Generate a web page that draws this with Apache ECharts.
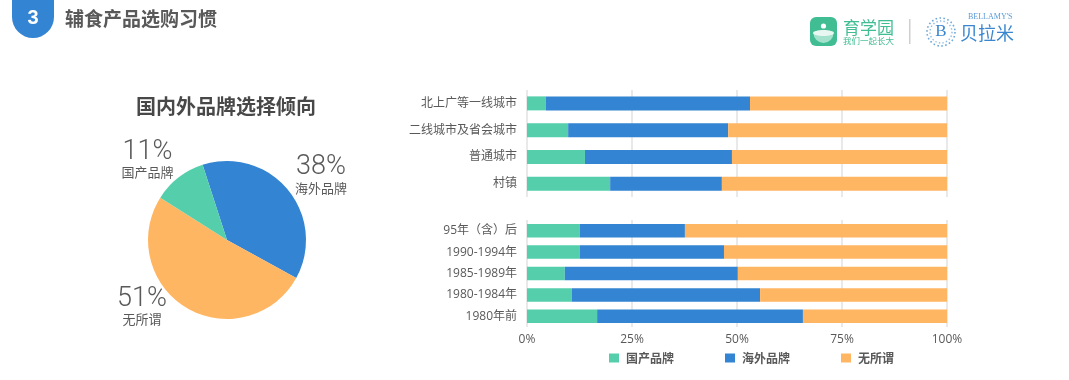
<!DOCTYPE html>
<html>
<head>
<meta charset="utf-8">
<style>html,body{margin:0;padding:0;background:#fff}#c{width:1069px;height:380px}</style>
<script src="https://cdn.jsdelivr.net/npm/echarts@6/dist/echarts.min.js"></script>
</head>
<body>
<div id="c"></div>
<script>
var seriesNames = ['国产品牌', '海外品牌', '无所谓'];
var cityCats = ['北上广等一线城市', '二线城市及省会城市', '普通城市', '村镇'];
var cityDomestic = [4.5, 9.8, 13.8, 19.8];
var cityOverseas = [48.6, 38.1, 35.0, 26.6];
var cityNone = [46.9, 52.1, 51.2, 53.6];
var ageCats = ['95年（含）后', '1990-1994年', '1985-1989年', '1980-1984年', '1980年前'];
var ageDomestic = [12.6, 12.6, 9.0, 10.7, 16.7];
var ageOverseas = [25.0, 34.3, 41.2, 44.8, 49.0];
var ageNone = [62.4, 53.1, 49.8, 44.5, 34.3];
var pieNames = ['海外品牌', '无所谓', '国产品牌'];
var pieValues = [38, 51, 11];

var GREEN = '#55cfab', BLUE = '#3384d2', ORANGE = '#ffb663';
var GREY = '#595959';
var FONT = '"Open Sans","Noto Sans CJK SC",sans-serif';
var CJK = '"Noto Sans CJK SC",sans-serif';
var pieColors = [BLUE, ORANGE, GREEN];
var pieLabelPos = [
  {x: 321, y: 176, align: 'center', verticalAlign: 'middle'},
  {x: 142, y: 307.5, align: 'center', verticalAlign: 'middle'},
  {x: 147.5, y: 160.5, align: 'center', verticalAlign: 'middle'}
];

function barSeries(name, data, color, idx, width) {
  return {
    type: 'bar', name: name, stack: 'g' + idx, data: data,
    xAxisIndex: idx, yAxisIndex: idx, barWidth: width,
    itemStyle: {color: color}, silent: true
  };
}
function xAxis(idx, showLabel) {
  return {
    type: 'value', gridIndex: idx, min: 0, max: 100, interval: 25,
    axisLine: {show: false}, axisTick: {show: false},
    axisLabel: {show: showLabel, formatter: '{value}%', color: GREY, fontSize: 12, fontFamily: FONT, margin: 7},
    splitLine: {show: true, lineStyle: {color: '#e2e2e2', width: 1.5}}
  };
}
function yAxis(idx, cats) {
  return {
    type: 'category', gridIndex: idx, data: cats, inverse: true,
    axisLine: {show: false}, axisTick: {show: false},
    axisLabel: {color: GREY, fontSize: 12, fontFamily: FONT, margin: 10}
  };
}

var chart = echarts.init(document.getElementById('c'), null, {renderer: 'canvas'});
chart.setOption({
  animation: false,
  backgroundColor: '#fff',
  title: {
    text: '国内外品牌选择倾向', left: 221, top: 91, textAlign: 'center',
    textStyle: {fontSize: 20, fontWeight: 'bold', color: '#484848', fontFamily: CJK}
  },
  legend: {
    data: seriesNames, left: 609, top: 352, padding: 0, itemWidth: 10, itemHeight: 9, itemGap: 51,
    textStyle: {color: GREY, fontSize: 12, fontWeight: 'bold', fontFamily: CJK, padding: [0, 0, 0, 2]},
    icon: 'rect', selectedMode: false
  },
  grid: [
    {left: 527, width: 420, top: 90, height: 107},
    {left: 527, width: 420, top: 220, height: 107}
  ],
  xAxis: [xAxis(0, false), xAxis(1, true)],
  yAxis: [yAxis(0, cityCats), yAxis(1, ageCats)],
  series: [
    barSeries(seriesNames[0], cityDomestic, GREEN, 0, 14),
    barSeries(seriesNames[1], cityOverseas, BLUE, 0, 14),
    barSeries(seriesNames[2], cityNone, ORANGE, 0, 14),
    barSeries(seriesNames[0], ageDomestic, GREEN, 1, 13.5),
    barSeries(seriesNames[1], ageOverseas, BLUE, 1, 13.5),
    barSeries(seriesNames[2], ageNone, ORANGE, 1, 13.5),
    {
      type: 'pie', center: [227, 240], radius: [0, 79], startAngle: 108, clockwise: true,
      silent: true,
      data: pieNames.map(function (n, i) {
        return {name: n, value: pieValues[i], itemStyle: {color: pieColors[i]}};
      }),
      labelLine: {show: false},
      label: {
        show: true,
        formatter: function (p) { return '{v|' + p.value + '%}\n{n|' + p.name + '}'; },
        rich: {
          v: {fontSize: 27, fontWeight: 300, color: GREY, fontFamily: 'Roboto,"Liberation Sans",sans-serif', lineHeight: 24, align: 'center'},
          n: {fontSize: 13, color: GREY, fontFamily: CJK, lineHeight: 17, align: 'center'}
        }
      },
      labelLayout: function (p) { return pieLabelPos[p.dataIndex]; }
    }
  ],
  graphic: [
    {type: 'rect', shape: {x: 12, y: -30, width: 42, height: 68, r: [0, 0, 21, 21]}, style: {fill: BLUE}},
    {type: 'text', x: 33, y: 18, style: {text: '3', fill: '#fff', font: 'bold 20px "Liberation Sans",sans-serif', textAlign: 'center', textVerticalAlign: 'middle'}},
    {type: 'text', x: 65, y: 19, style: {text: '辅食产品选购习惯', fill: GREY, font: 'bold 19px "Noto Sans CJK SC",sans-serif', textVerticalAlign: 'middle'}},
    {type: 'rect', shape: {x: 810, y: 17, width: 27, height: 29, r: 6}, style: {fill: '#41bd94'}},
    {type: 'circle', shape: {cx: 823.5, cy: 26, r: 2.6}, style: {fill: '#fff'}},
    {type: 'sector', shape: {cx: 823.5, cy: 33, r: 10, r0: 0, startAngle: 0, endAngle: Math.PI}, style: {fill: '#a5e2cd'}},
    {type: 'ellipse', shape: {cx: 823.5, cy: 33, rx: 10.5, ry: 3}, style: {fill: '#e8f7f1'}},
    {type: 'text', x: 843, y: 28, style: {text: '育学园', fill: '#41bd94', font: '17px "Noto Sans CJK SC",sans-serif', textVerticalAlign: 'middle'}},
    {type: 'text', x: 843, y: 41, style: {text: '我们一起长大', fill: '#41bd94', font: '8.5px "Noto Sans CJK SC",sans-serif', textVerticalAlign: 'middle'}},
    {type: 'rect', shape: {x: 909, y: 19, width: 1.5, height: 25}, style: {fill: '#cfcfcf'}},
    {type: 'circle', shape: {cx: 941, cy: 32, r: 14}, style: {fill: 'none', stroke: '#6ea8dc', lineWidth: 1.6, lineDash: [1.6, 2.4]}},
    {type: 'circle', shape: {cx: 941, cy: 32, r: 11}, style: {fill: 'none', stroke: '#8dbbe4', lineWidth: 1.4, lineDash: [1.4, 2.2]}},
    {type: 'text', x: 941, y: 32, style: {text: 'B', fill: '#3a87cf', font: '17px "Liberation Serif",serif', textAlign: 'center', textVerticalAlign: 'middle'}},
    {type: 'text', x: 968, y: 17, style: {text: "BELLAMY'S", fill: '#5a9bd6', font: '8px "Liberation Serif",serif', textVerticalAlign: 'middle'}},
    {type: 'text', x: 960, y: 33, style: {text: '贝拉米', fill: '#3a87cf', font: '18px "Noto Sans CJK SC",sans-serif', textVerticalAlign: 'middle'}}
  ]
});
</script>
</body>
</html>
